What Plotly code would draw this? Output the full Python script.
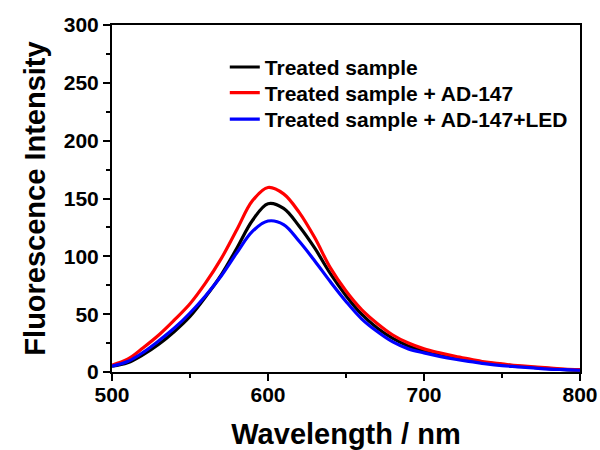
import plotly.graph_objects as go

wavelength = [500, 510, 520, 530, 540, 550, 560, 570, 580, 590, 600, 610, 620, 630, 640, 650, 660, 670, 680,
              690, 700, 710, 720, 730, 740, 750, 760, 770, 780, 790, 800]
treated = [5, 8, 15, 24, 35, 48, 65, 84, 107, 131, 145.5, 141.5, 126, 107, 85, 66, 50, 38, 29,
           22.5, 18, 15, 12, 10, 8, 6.5, 5, 4, 3, 2, 1.5]
treated_ad = [6, 11, 21, 32, 45, 59, 77, 98, 123, 148, 159.5, 154, 138, 116, 90, 70, 54, 42, 32,
              25, 20, 16.5, 13.5, 11, 8.5, 7, 5.5, 4.5, 3.5, 2.5, 2]
treated_ad_led = [5, 9, 17, 27, 38, 51, 66, 83, 103, 121.5, 130.5, 127.5, 113, 96, 78, 61, 46, 35, 26,
                  20, 16.5, 13.5, 11, 9, 7, 5.5, 4.5, 3.5, 2.5, 2, 1.5]

names = ["Treated sample", "Treated sample + AD-147", "Treated sample + AD-147+LED"]
colors = ["#000000", "#ff0000", "#0000ff"]
legend_ids = ["legend", "legend2", "legend3"]
legend_y = [0.878, 0.804, 0.728]

font_family = "Liberation Sans, Arial, sans-serif"

fig = go.Figure()
for name, ys, c, lid in zip(names, [treated, treated_ad, treated_ad_led], colors, legend_ids):
    fig.add_trace(go.Scatter(x=wavelength, y=ys, mode="lines", name=name, legend=lid, showlegend=True,
                             line=dict(color=c, width=3.2, shape="spline", smoothing=1.0)))

axis_common = dict(
    showline=True, linecolor="black", linewidth=2, mirror=True,
    ticks="outside", ticklen=7, tickwidth=2, tickcolor="black",
    showgrid=False, zeroline=False, automargin=False,
    tickfont=dict(family=font_family, size=21, color="black", weight="bold"),
)

fig.update_xaxes(range=[500, 800], tickvals=[500, 600, 700, 800], ticklabelstandoff=-4,
                 minor=dict(tickvals=[550, 650, 750], ticks="outside", ticklen=4, tickwidth=2, tickcolor="black"),
                 title=dict(text="Wavelength / nm", standoff=20,
                            font=dict(family=font_family, size=29, color="black", weight="bold")),
                 **axis_common)
fig.update_yaxes(range=[0, 300], tickvals=[0, 50, 100, 150, 200, 250, 300],
                 minor=dict(tickvals=[25, 75, 125, 175, 225, 275], ticks="outside", ticklen=4, tickwidth=2,
                            tickcolor="black"),
                 title=dict(text="Fluorescence Intensity", standoff=10,
                            font=dict(family=font_family, size=29, color="black", weight="bold")),
                 **axis_common)

legend_style = dict(x=0.241, xanchor="left", yanchor="middle", bgcolor="rgba(0,0,0,0)", visible=True,
                    font=dict(family=font_family, size=21, color="black", weight="bold"))
fig.update_layout(
    width=600, height=450, showlegend=True,
    margin=dict(l=112, r=20, t=25, b=78),
    plot_bgcolor="white", paper_bgcolor="white",
    legend=dict(y=legend_y[0], **legend_style),
    legend2=dict(y=legend_y[1], **legend_style),
    legend3=dict(y=legend_y[2], **legend_style),
)

fig.write_html("out.html")
